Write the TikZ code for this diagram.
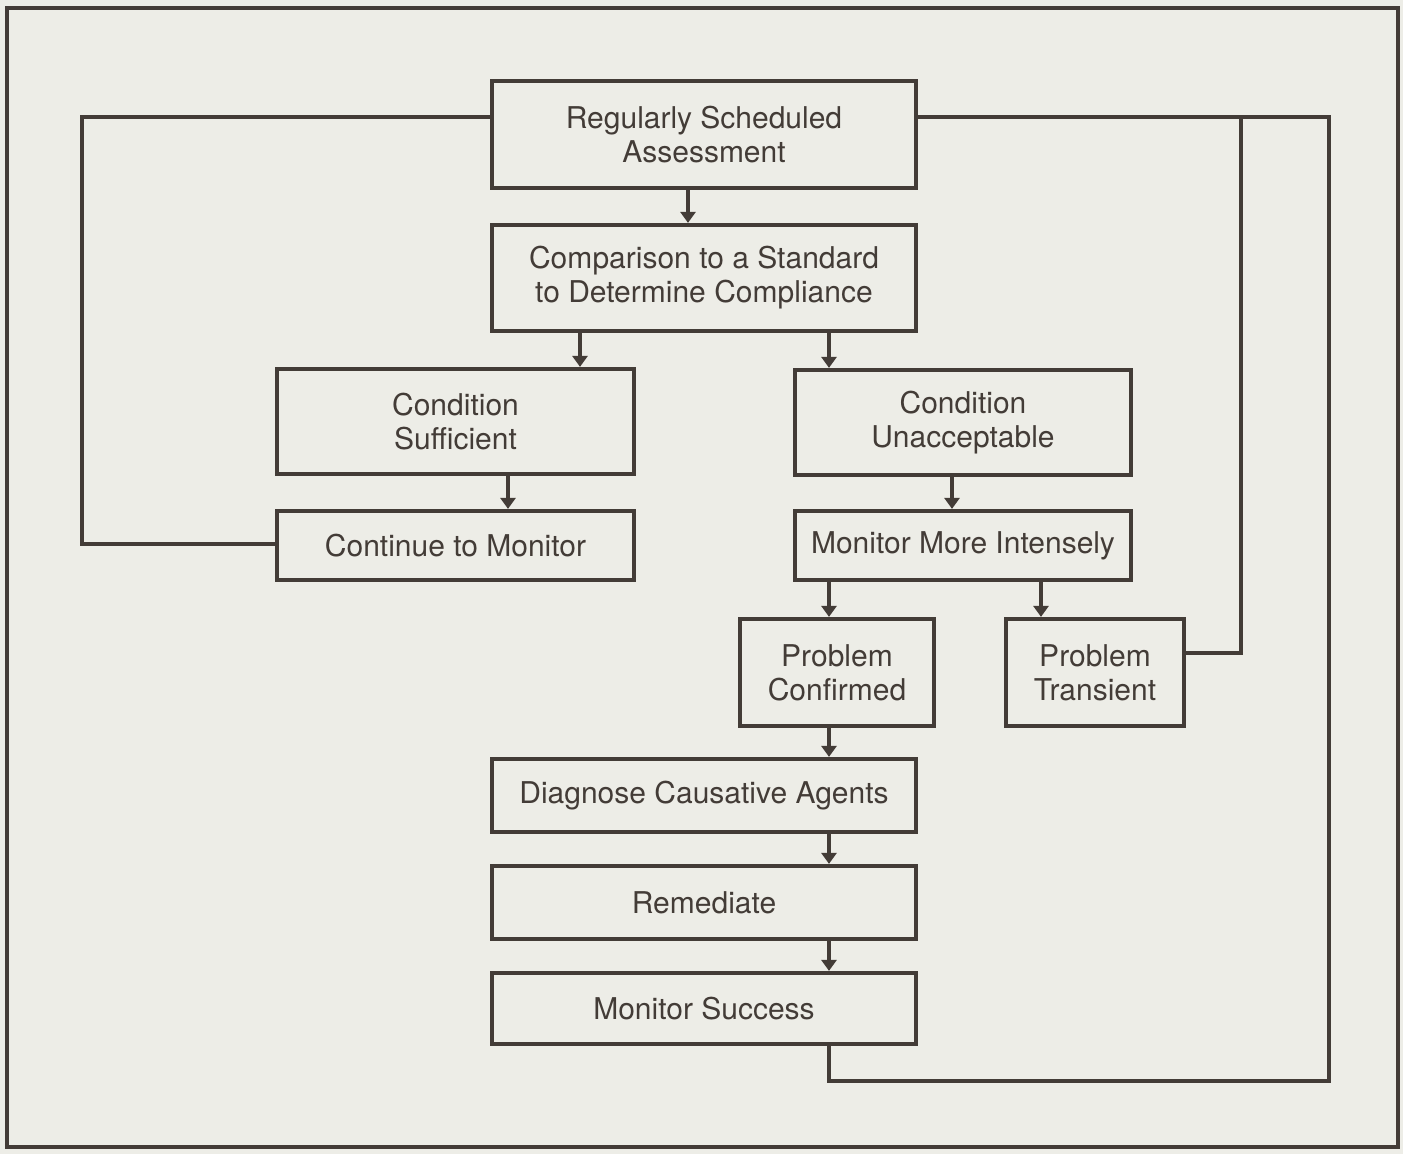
\documentclass[tikz,border=0pt]{standalone}
\usepackage{fontspec}
\setmainfont{TeX Gyre Heros}
\usetikzlibrary{arrows.meta}
\definecolor{paper}{HTML}{EDEDE7}
\definecolor{ink}{HTML}{433C37}
\begin{document}
\begin{tikzpicture}[x=0.5pt,y=-0.5pt,
  line/.style={draw=ink,line width=2.1pt},
  box/.style={draw=ink,line width=2.1pt,rectangle,align=center,inner sep=0pt,
    text=ink,font=\fontsize{15pt}{17pt}\selectfont},
  arr/.style={line,-{Triangle[width=7.5pt,length=5.5pt]}}]
\fill[paper] (0,0) rectangle (1403,1154);
\useasboundingbox (0,0) rectangle (1403,1154);
\draw[line] (7,8) rectangle (1398,1147);
% boxes
\node[box,minimum width=212pt,minimum height=53.5pt] (reg) at (704,134.5) {Regularly Scheduled\\Assessment};
\node[box,minimum width=212pt,minimum height=53pt] (comp) at (704,278) {Comparison to a Standard\\to Determine Compliance};
\node[box,minimum width=178.5pt,minimum height=52.5pt] (suff) at (455.5,421.5) {Condition\\Sufficient};
\node[box,minimum width=178.5pt,minimum height=34.5pt] (cont) at (455.5,545.5) {Continue to Monitor};
\node[box,minimum width=168pt,minimum height=52.5pt] (unacc) at (963,422.5) {Condition\\Unacceptable};
\node[box,minimum width=168pt,minimum height=34.5pt] (more) at (963,545.5) {Monitor More Intensely};
\node[box,minimum width=97pt,minimum height=53.5pt] (conf) at (837,672.5) {Problem\\Confirmed};
\node[box,minimum width=89pt,minimum height=53.5pt] (trans) at (1095,672.5) {Problem\\Transient};
\node[box,minimum width=212pt,minimum height=36.5pt] (diag) at (704,795.5) {Diagnose Causative Agents};
\node[box,minimum width=212pt,minimum height=36.5pt] (rem) at (704,902.5) {Remediate};
\node[box,minimum width=212pt,minimum height=35.5pt] (succ) at (704,1008.5) {Monitor Success};
% helper coordinates
\coordinate (xa) at (688,0);
\coordinate (xb) at (580,0);
\coordinate (xc) at (829,0);
\coordinate (xd) at (508,0);
\coordinate (xe) at (952,0);
\coordinate (xf) at (1041,0);
\coordinate (xl) at (82,0);
\coordinate (xi) at (1241,0);
\coordinate (xr) at (1329,0);
\coordinate (yl) at (0,117);
\coordinate (yt) at (0,653);
\coordinate (yb) at (0,1081);
% arrows
\draw[arr] (reg.south -| xa) -- (comp.north -| xa);
\draw[arr] (comp.south -| xb) -- (suff.north -| xb);
\draw[arr] (comp.south -| xc) -- (unacc.north -| xc);
\draw[arr] (suff.south -| xd) -- (cont.north -| xd);
\draw[arr] (unacc.south -| xe) -- (more.north -| xe);
\draw[arr] (more.south -| xc) -- (conf.north -| xc);
\draw[arr] (more.south -| xf) -- (trans.north -| xf);
\draw[arr] (conf.south -| xc) -- (diag.north -| xc);
\draw[arr] (diag.south -| xc) -- (rem.north -| xc);
\draw[arr] (rem.south -| xc) -- (succ.north -| xc);
% loops
\draw[line] (cont.west |- 0,544) -- (xl |- 0,544) -- (xl |- yl) -- (reg.west |- yl);
\draw[line] (reg.east |- yl) -- (xr |- yl) -- (xr |- yb) -- (xc |- yb) -- (succ.south -| xc);
\draw[line] (xi |- yl) -- (xi |- yt) -- (trans.east |- yt);
\end{tikzpicture}
\end{document}
